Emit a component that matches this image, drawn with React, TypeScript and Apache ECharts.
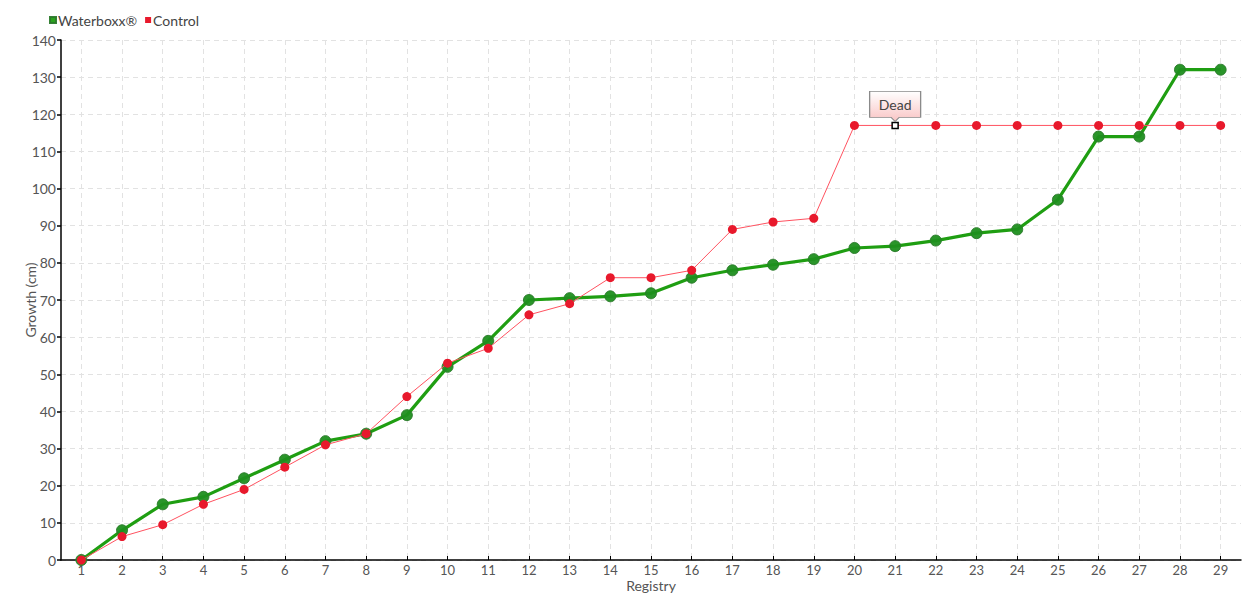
import React, { useEffect, useRef } from "react";
import * as echarts from "echarts";

const categories = ["1","2","3","4","5","6","7","8","9","10","11","12","13","14","15","16","17","18","19","20","21","22","23","24","25","26","27","28","29"];
const waterboxx = [0, 8, 15, 17, 22, 27, 32, 34, 39, 52, 59, 70, 70.5, 71, 71.8, 76, 78, 79.5, 81, 84, 84.5, 86, 88, 89, 97, 114, 114, 132, 132];
const control = [0, 6.3, 9.5, 15, 19, 25, 31, 34, 44, 53, 57, 66, 69, 76, 76, 78, 89, 91, 92, 117, 117, 117, 117, 117, 117, 117, 117, 117, 117];
const deadIndex = 20;
const deadLabel = "Dead";

const FONT = "Lato, 'Liberation Sans Narrow', sans-serif";
const TXT = "#555";

export default function App() {
  const ref = useRef<HTMLDivElement>(null);
  useEffect(() => {
    if (!ref.current) return;
    const chart = echarts.init(ref.current, null, { renderer: "svg" });
    const controlData = control.map((v, i) =>
      i === deadIndex
        ? {
            value: v,
            symbol: "rect",
            symbolSize: 6,
            itemStyle: { color: "#ffffff", borderColor: "#000000", borderWidth: 1.5, opacity: 1 },
          }
        : v
    );
    chart.setOption({
      animation: false,
      textStyle: { fontFamily: FONT },
      legend: {
        left: 44,
        top: 8,
        icon: "rect",
        itemWidth: 6,
        itemHeight: 6,
        itemGap: 8,
        textStyle: { fontFamily: FONT, fontSize: 14, color: "#444", padding: [0, 0, 0, -3] },
        data: [
          { name: "Waterboxx®", itemStyle: { color: "#1f9e12" } },
          { name: "Control", itemStyle: { color: "#e8192c" } },
        ],
      },
      grid: { left: 61, right: 19, top: 40, bottom: 40, containLabel: false },
      xAxis: {
        type: "category",
        data: categories,
        boundaryGap: true,
        name: "Registry",
        nameLocation: "middle",
        nameGap: 18,
        nameMoveOverlap: false,
        nameTextStyle: { fontFamily: FONT, fontSize: 14, color: TXT },
        axisLine: { lineStyle: { color: "#000", width: 1.5 } },
        axisTick: { show: true, inside: true, alignWithLabel: true, length: 4, lineStyle: { color: "#000", width: 1 } },
        axisLabel: { fontFamily: FONT, fontSize: 13, color: TXT, margin: 3, interval: 0 },
        splitLine: {
          show: true,
          alignWithLabel: true,
          lineStyle: { color: "#e2e2e2", type: [5, 4], width: 1 },
        },
      } as any,
      yAxis: {
        type: "value",
        min: 0,
        max: 140,
        interval: 10,
        name: "Growth (cm)",
        nameLocation: "middle",
        nameGap: 24,
        nameMoveOverlap: false,
        nameTextStyle: { fontFamily: FONT, fontSize: 14, color: TXT },
        axisLine: { show: true, lineStyle: { color: "#000", width: 1.5 } },
        axisTick: { show: true, length: 4, lineStyle: { color: "#000", width: 1.5 } },
        axisLabel: { fontFamily: FONT, fontSize: 14, color: TXT, margin: 5 },
        splitLine: { show: true, lineStyle: { color: "#e2e2e2", type: [5, 4], width: 1 } },
      } as any,
      series: [
        {
          name: "Control",
          type: "line",
          data: controlData,
          z: 3,
          symbol: "circle",
          symbolSize: 9,
          lineStyle: { color: "#ff5260", width: 1 },
          itemStyle: { color: "#e8192c", opacity: 1 },
          markPoint: {
            symbol: "path://M0,0 H50 V25 H29 L25,29 L21,25 H0 Z",
            symbolSize: [51, 30],
            symbolOffset: [0, -19],
            silent: true,
            itemStyle: {
              color: new echarts.graphic.LinearGradient(0, 0, 0, 1, [
                { offset: 0, color: "#ffffff" },
                { offset: 1, color: "#f9c4c4" },
              ]),
              borderColor: "#8a8a8a",
              borderWidth: 1,
            },
            label: {
              show: true,
              formatter: deadLabel,
              fontFamily: FONT,
              fontSize: 14,
              color: "#444",
              offset: [0, -2],
            },
            data: [{ coord: [categories[deadIndex], control[deadIndex]] }],
          },
        },
        {
          name: "Waterboxx®",
          type: "line",
          data: waterboxx,
          z: 2,
          symbol: "circle",
          symbolSize: 11,
          lineStyle: { color: "#1f9e12", width: 3.2 },
          itemStyle: { color: "#1f8f1f", borderColor: "#2b7a2b", borderWidth: 1, opacity: 0.95 },
        },
      ],
    });
    return () => chart.dispose();
  }, []);
  return <div ref={ref} style={{ width: 1260, height: 600, position: "absolute", left: 0, top: 0 }} />;
}
